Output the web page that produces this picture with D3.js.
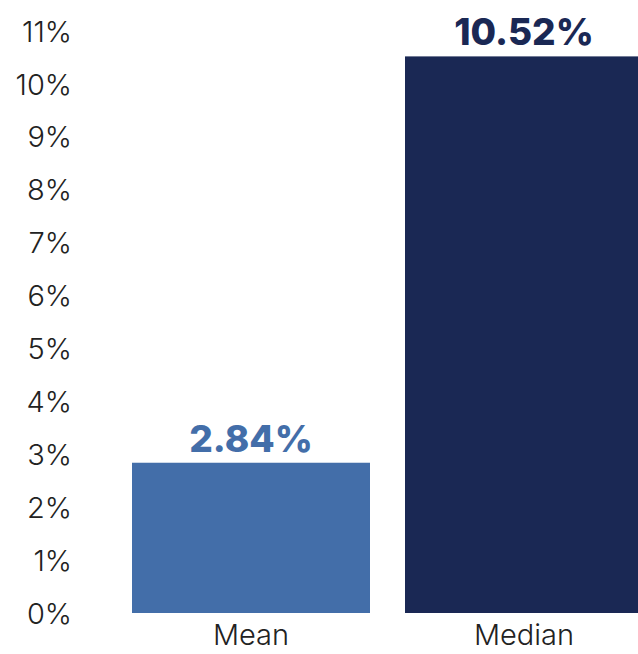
<!DOCTYPE html>
<html>
<head>
<meta charset="utf-8">
<script src="https://cdn.jsdelivr.net/npm/d3@7"></script>
<style>
  html, body { margin: 0; padding: 0; background: #fff; }
  svg { display: block; font-family: Inter, "Noto Sans", sans-serif; }
</style>
</head>
<body>
<svg id="chart"></svg>
<script>
const categories = ['Mean', 'Median'];
const values = [2.84, 10.52];
const barColors = ['#436ea9', '#1a2854'];
const yTicks = [0, 1, 2, 3, 4, 5, 6, 7, 8, 9, 10, 11];

const width = 638;
const height = 654;

const svg = d3.select('#chart')
  .attr('width', width)
  .attr('height', height);

// y scale: 0% sits at the bars' base, 11% near the top
const yScale = d3.scaleLinear()
  .domain([0, 11])
  .range([613, 31]);

// x scale for the two bars, the second one runs off the right edge
const xScale = d3.scaleBand()
  .domain(categories)
  .range([132, 643])
  .paddingInner(35 / 273)
  .paddingOuter(0);

// bars
svg.selectAll('rect.bar')
  .data(categories)
  .enter()
  .append('rect')
  .attr('class', 'bar')
  .attr('x', d => xScale(d))
  .attr('y', (d, i) => yScale(values[i]))
  .attr('width', xScale.bandwidth())
  .attr('height', (d, i) => yScale(0) - yScale(values[i]))
  .attr('fill', (d, i) => barColors[i]);

// value labels above bars
svg.selectAll('text.value')
  .data(categories)
  .enter()
  .append('text')
  .attr('class', 'value')
  .attr('x', d => xScale(d) + xScale.bandwidth() / 2)
  .attr('y', (d, i) => yScale(values[i]) - 11)
  .attr('text-anchor', 'middle')
  .attr('font-size', 37)
  .attr('font-weight', 800)
  .attr('fill', (d, i) => barColors[i])
  .text((d, i) => values[i].toFixed(2) + '%');

// y axis, labels only
const yAxis = svg.append('g')
  .attr('transform', 'translate(72,0)')
  .call(d3.axisLeft(yScale).tickValues(yTicks).tickFormat(d => d + '%').tickSize(0).tickPadding(0));
yAxis.select('.domain').remove();
yAxis.selectAll('text')
  .attr('font-family', 'Inter, "Noto Sans", sans-serif')
  .attr('font-size', 29)
  .attr('font-weight', 300)
  .attr('fill', '#222')
  .attr('dy', '0.35em');

// x axis, category labels only
const xAxis = svg.append('g')
  .attr('transform', 'translate(0,613)')
  .call(d3.axisBottom(xScale).tickSize(0).tickPadding(0));
xAxis.select('.domain').remove();
xAxis.selectAll('text')
  .attr('font-family', 'Inter, "Noto Sans", sans-serif')
  .attr('font-size', 29)
  .attr('font-weight', 300)
  .attr('fill', '#222')
  .attr('dy', null)
  .attr('y', 32);
</script>
</body>
</html>
